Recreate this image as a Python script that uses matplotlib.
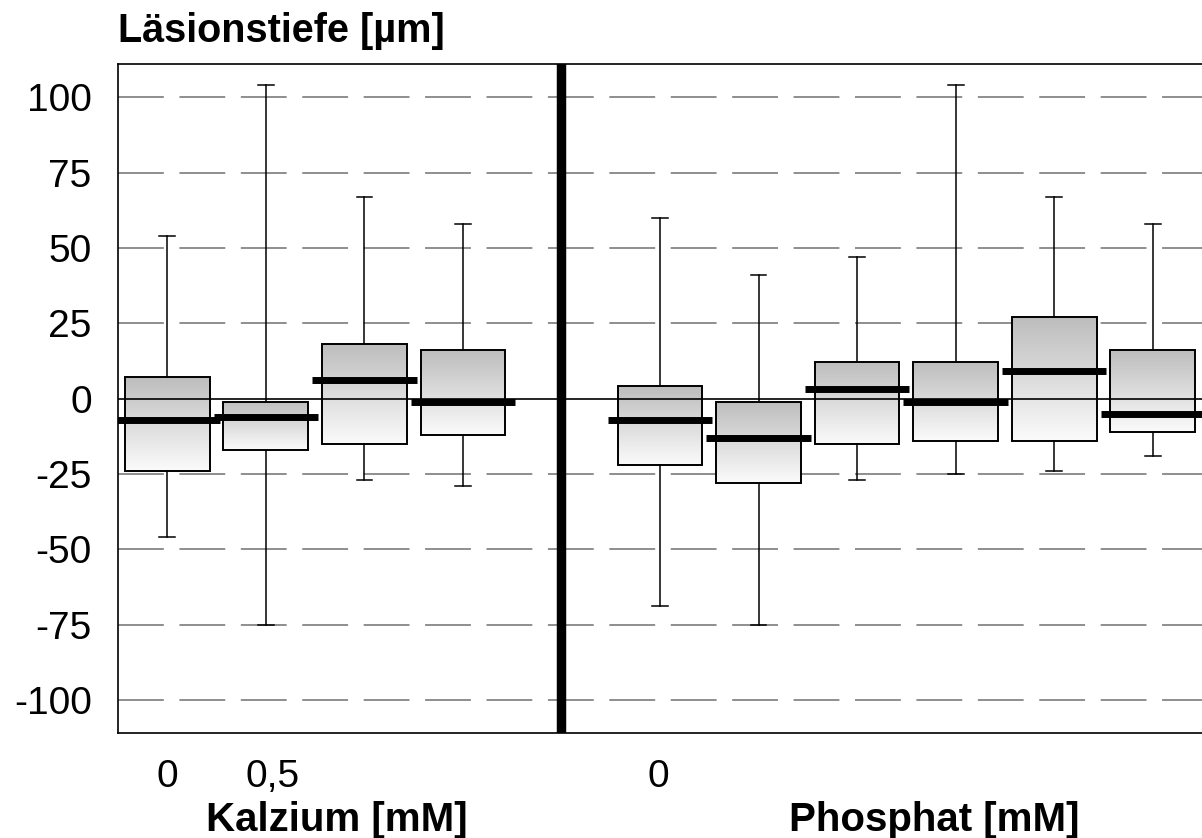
import matplotlib.pyplot as plt
from matplotlib.colors import LinearSegmentedColormap
import numpy as np

plt.rcParams['font.family'] = ['Liberation Sans', 'DejaVu Sans']

# box statistics (µm)
positions = [0.5, 1.5, 2.5, 3.5, 5.5, 6.5, 7.5, 8.5, 9.5, 10.5]
whislo = [-46, -75, -27, -29, -69, -75, -27, -25, -24, -19]
q1 = [-24, -17, -15, -12, -22, -28, -15, -14, -14, -11]
med = [-7, -6, 6, -1, -7, -13, 3, -1, 9, -5]
q3 = [7, -1, 18, 16, 4, -1, 12, 12, 27, 16]
whishi = [54, 104, 67, 58, 60, 41, 47, 104, 67, 58]

tick_pos = [0.5, 1.57, 5.48]
tick_lab = ["0", "0,5", "0"]
yticks = [100, 75, 50, 25, 0, -25, -50, -75, -100]

fs = 28      # tick labels
fs_b = 29    # bold labels

fig = plt.figure(figsize=(12.02, 8.38), dpi=100)
ax = fig.add_axes([0.0982, 0.1253, 0.9018, 0.7983])

stats = []
for i in range(len(positions)):
    stats.append({'whislo': whislo[i], 'q1': q1[i], 'med': med[i],
                  'q3': q3[i], 'whishi': whishi[i]})

bp = ax.bxp(stats, positions=positions, widths=0.86, patch_artist=True,
            showfliers=False,
            boxprops=dict(facecolor='none', edgecolor='black', linewidth=1.4),
            whiskerprops=dict(color='black', linewidth=1.1),
            capprops=dict(color='black', linewidth=1.1),
            medianprops=dict(linewidth=0), capwidths=0.16)

# gradient fill inside each box, dark at top, light at bottom
cmap = LinearSegmentedColormap.from_list('boxgrad', ['#fbfbfb', '#bdbdbd'])
grad = np.linspace(0, 1, 256).reshape(-1, 1)
for i, patch in enumerate(bp['boxes']):
    x0 = positions[i] - 0.43
    im = ax.imshow(grad, cmap=cmap, vmin=0, vmax=1,
                   extent=[x0, x0 + 0.86, q1[i], q3[i]], origin='lower',
                   aspect='auto', zorder=1.5)
    im.set_clip_path(patch)
    patch.set_zorder(2)

ax.axhline(0, color='black', linewidth=1.2, zorder=2.5)
ax.hlines(med, [p - 0.53 for p in positions], [p + 0.53 for p in positions],
          color='black', linewidth=5, zorder=3)

for y in yticks:
    if y != 0:
        ax.axhline(y, color='#707070', linewidth=1.1, dashes=(30, 10.2), zorder=0.5)

ax.axvline(4.5, color='black', linewidth=6.8, zorder=4)

ax.set_xlim(0, 11)
ax.set_ylim(-111, 111)
ax.set_yticks(yticks)
ax.set_yticklabels([str(v) for v in yticks], fontsize=fs)
ax.set_xticks(tick_pos)
ax.set_xticklabels(tick_lab, fontsize=fs)
ax.tick_params(axis='y', length=0, pad=19)
ax.tick_params(axis='x', length=0, pad=19)
ax.spines['right'].set_visible(False)
for s in ['left', 'top', 'bottom']:
    ax.spines[s].set_linewidth(1.2)

ax.text(2.22, -0.1465, "Kalzium [mM]", transform=ax.get_xaxis_transform(),
        ha='center', va='baseline', fontsize=fs_b, fontweight='bold')
ax.text(8.28, -0.1465, "Phosphat [mM]", transform=ax.get_xaxis_transform(),
        ha='center', va='baseline', fontsize=fs_b, fontweight='bold')
fig.text(0.0982, 0.9499, "Läsionstiefe [µm]", ha='left', va='baseline',
         fontsize=28.5, fontweight='bold')

fig.savefig("out.png", dpi=100)
